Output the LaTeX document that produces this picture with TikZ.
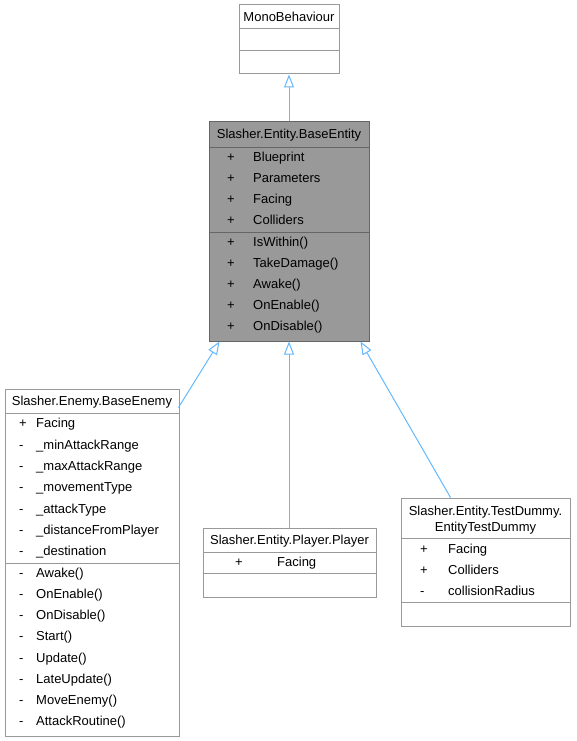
\documentclass[tikz,border=0pt]{standalone}
\usepackage{fontspec}
\setmainfont{Liberation Sans}
\usetikzlibrary{arrows.meta,calc}
\definecolor{edgeblue}{HTML}{63B8FF}
\definecolor{boxgray}{HTML}{999999}
\definecolor{darkgray}{HTML}{666666}
\tikzset{
  classbox/.style={draw=boxgray, line width=1pt, fill=white, inner sep=0pt},
  mainbox/.style={draw=darkgray, line width=1pt, fill=boxgray, inner sep=0pt},
  divider/.style={draw=boxgray, line width=1pt},
  maindivider/.style={draw=darkgray, line width=1pt},
  txt/.style={inner sep=0pt, font=\fontsize{13}{15}\selectfont, anchor=base west},
  ttl/.style={inner sep=0pt, font=\fontsize{13}{15}\selectfont, anchor=base},
  inherit/.style={draw=edgeblue, line width=1pt, -{Triangle[open, width=10pt, length=13pt, line width=1pt]}}
}
\begin{document}
\begin{tikzpicture}[x=1pt,y=-1pt]
\useasboundingbox (0,0) rectangle (576,741);
% MonoBehaviour
\node[classbox, minimum width=100pt, minimum height=69pt] (mono) at (289,39.5) {};
\draw[divider] (239,29) -- (339,29);
\draw[divider] (239,51) -- (339,51);
\node[ttl] (monot) at (289,21.5) {MonoBehaviour};
% BaseEntity
\node[mainbox, minimum width=160pt, minimum height=219pt] (entity) at (289,231.5) {};
\draw[maindivider] (209,147) -- (369,147);
\draw[maindivider] (209,232) -- (369,232);
\node[ttl] (entityt) at (289,138.5) {Slasher.Entity.BaseEntity};
\foreach \y/\s/\t in {157/+/Blueprint,178/+/Parameters,199/+/Facing,220/+/Colliders,242/+/IsWithin(),263/+/TakeDamage(),284/+/Awake(),305/+/OnEnable(),326/+/OnDisable()}{
  \node[txt] at (227,\y+4.5) {\s};
  \node[txt] at (253,\y+4.5) {\t};
}
% BaseEnemy
\node[classbox, minimum width=174pt, minimum height=347pt] (enemy) at (92,562.5) {};
\draw[divider] (5,413) -- (179,413);
\draw[divider] (5,563) -- (179,563);
\node[ttl] (enemyt) at (92,405.5) {Slasher.Enemy.BaseEnemy};
\foreach \y/\s/\t in {423/+/Facing,445/-/\_minAttackRange,466/-/\_maxAttackRange,487/-/\_movementType,509/-/\_attackType,530/-/\_distanceFromPlayer,551/-/\_destination,573/-/Awake(),594/-/OnEnable(),615/-/OnDisable(),636/-/Start(),658/-/Update(),679/-/LateUpdate(),700/-/MoveEnemy(),721/-/AttackRoutine()}{
  \node[txt] at (19,\y+4.5) {\s};
  \node[txt] at (36,\y+4.5) {\t};
}
% Player
\node[classbox, minimum width=173pt, minimum height=69pt] (player) at (289.5,562.5) {};
\draw[divider] (203,552) -- (376,552);
\draw[divider] (203,573) -- (376,573);
\node[ttl] (playert) at (289.5,544.5) {Slasher.Entity.Player.Player};
\node[txt] at (235,566.5) {+};
\node[txt] at (277,566.5) {Facing};
% TestDummy
\node[classbox, minimum width=169pt, minimum height=128pt] (dummy) at (485.5,562) {};
\draw[divider] (401,538) -- (570,538);
\draw[divider] (401,602) -- (570,602);
\node[ttl] (dummyt1) at (485.5,515.5) {Slasher.Entity.TestDummy.};
\node[ttl] (dummyt2) at (485.5,531.5) {EntityTestDummy};
\foreach \y/\s/\t in {549/+/Facing,570/+/Colliders,591/-/collisionRadius}{
  \node[txt] at (420,\y+4.5) {\s};
  \node[txt] at (448,\y+4.5) {\t};
}
% connectors
\coordinate (monoIn) at (mono.south);
\coordinate (entTop) at (entity.north);
\coordinate (entL) at ($(entity.south west)+(11,0)$);
\coordinate (entR) at ($(entity.south east)+(-9,0)$);
\coordinate (enemyOut) at ($(enemy.north east)+(-1,19)$);
\coordinate (dummyOut) at ($(dummy.north west)+(50,0)$);
\coordinate (playerIn) at (player.north -| entity.south);
\draw[inherit] (entTop) -- (monoIn);
\draw[inherit] (enemyOut) -- (entL);
\draw[inherit] (playerIn) -- (entity.south);
\draw[inherit] (dummyOut) -- (entR);
\end{tikzpicture}
\end{document}
